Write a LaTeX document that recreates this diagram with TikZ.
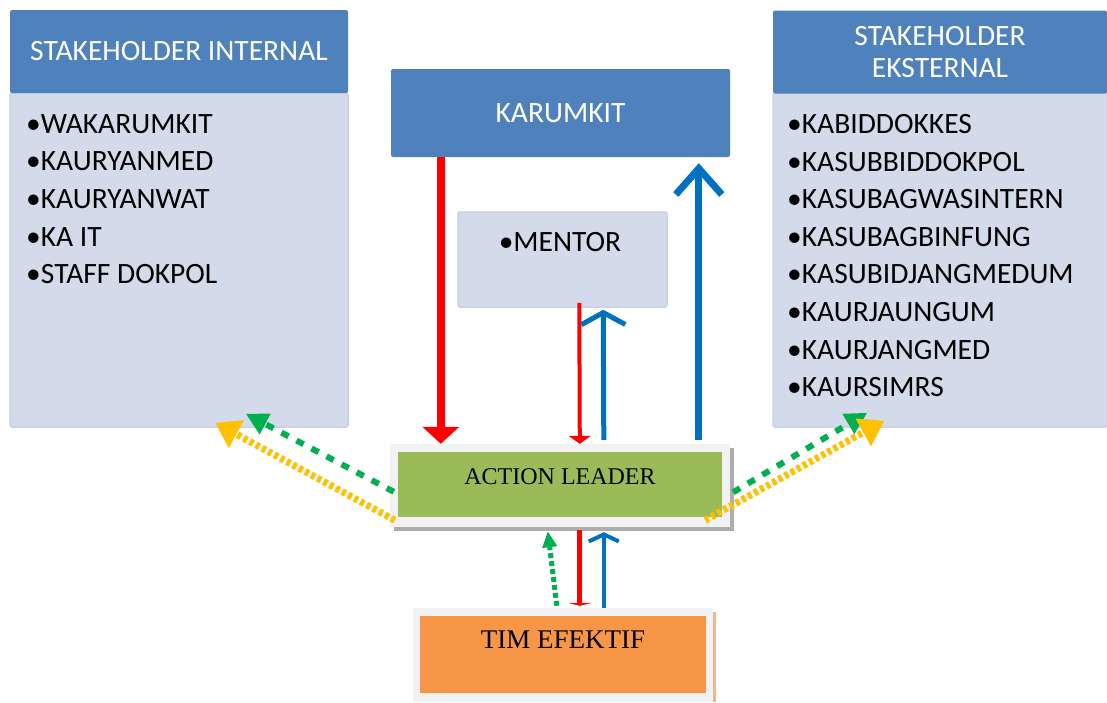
\documentclass[tikz,border=0pt]{standalone}
\usepackage{fontspec}
\setmainfont{Carlito}
\newfontfamily\timesfont{Liberation Serif}
\usetikzlibrary{positioning,arrows.meta}
\definecolor{hdblue}{HTML}{4F81BD}
\definecolor{lightbody}{HTML}{D3DBEA}
\definecolor{bodyedge}{HTML}{C9D2E3}
\definecolor{leadgreen}{HTML}{9BBB59}
\definecolor{timorange}{HTML}{F79646}
\definecolor{framegrey}{HTML}{F2F2F2}
\definecolor{arrred}{HTML}{FF0000}
\definecolor{arrblue}{HTML}{0070C0}
\definecolor{arrgreen}{HTML}{00B050}
\definecolor{arryellow}{HTML}{FFC000}

\begin{document}
\begin{tikzpicture}[x=1pt, y=-1pt, font=\fontsize{29.5}{32}\selectfont,
  header/.style={fill=hdblue, text=white, rounded corners=2pt, inner sep=0pt, align=center},
  listbox/.style={fill=lightbody, draw=bodyedge, line width=1.5pt, rounded corners=2pt, inner sep=0pt},
  item/.style={anchor=west, inner sep=0pt},
  frame/.style={fill=framegrey, inner sep=0pt},
  redline/.style={draw=arrred, line width=#1},
  blueline/.style={draw=arrblue, line width=#1},
  yellowdash/.style={draw=arryellow, line width=7pt, dash pattern=on 4pt off 3pt},
  greendash/.style={draw=arrgreen, line width=6pt, dash pattern=on 8pt off 9pt}]
  \useasboundingbox (0,0) rectangle (1107,702);

  % stakeholder boxes
  \node[listbox, minimum width=338pt, minimum height=334pt] (intbody) at (179,260) {};
  \node[header, minimum width=338pt, minimum height=83pt] (inthead) at (179,51.5) {STAKEHOLDER INTERNAL};
  \node[listbox, minimum width=334pt, minimum height=334pt] (extbody) at (940,260) {};
  \node[header, minimum width=334pt, minimum height=83pt] (exthead) at (940,52) {STAKEHOLDER\\EKSTERNAL};
  \foreach \t [count=\i] in {WAKARUMKIT,KAURYANMED,KAURYANWAT,KA IT,STAFF DOKPOL}
    \node[item] (int-\i) at (26,124+37.6*\i-37.6) {\textbullet\t};
  \foreach \t [count=\i] in {KABIDDOKKES,KASUBBIDDOKPOL,KASUBAGWASINTERN,KASUBAGBINFUNG,
      KASUBIDJANGMEDUM,KAURJAUNGUM,KAURJANGMED,KAURSIMRS}
    \node[item] (ext-\i) at (787,124+37.6*\i-37.6) {\textbullet\t};

  % middle column
  \node[header, minimum width=339pt, minimum height=88pt] (karumkit) at (560.5,113) {KARUMKIT};
  \node[listbox, minimum width=209pt, minimum height=95pt] (mentor) at (562.5,259.5) {};
  \node[inner sep=0pt] (mentortxt) at (560,242) {\textbullet MENTOR};

  \fill[black!32] (394,448) rectangle (734,531);
  \node[frame, minimum width=340pt, minimum height=83pt] (action) at (560,485.5) {};
  \node[fill=leadgreen, minimum width=324pt, minimum height=65pt] (lead) at (560,484.5) {};
  \node[inner sep=0pt, font=\timesfont\fontsize{24}{28}\selectfont] (leadtxt) at (560,477) {ACTION LEADER};

  \fill[timorange!50!brown!60] (417,612) rectangle (716,702);
  \node[frame, minimum width=300pt, minimum height=94pt] (tim) at (563,655) {};
  \node[fill=timorange, minimum width=286pt, minimum height=77pt] (timin) at (563,654.5) {};
  \node[inner sep=0pt, font=\timesfont\fontsize{27}{31}\selectfont] (timtxt) at (563,640) {TIM EFEKTIF};

  % vertical arrows
  \draw[redline=8pt, -{Triangle[width=36pt,length=17pt]}]
    ([xshift=50pt]karumkit.south west) -- ([xshift=51pt]action.north west);
  \draw[blueline=7pt, -{Straight Barb[width=46pt,length=26pt]}]
    ([xshift=309pt,yshift=4pt]action.north west) -- ([xshift=308pt,yshift=-6pt]karumkit.south west);
  \draw[redline=4pt, -{Triangle[width=22pt,length=8pt]}]
    ([xshift=122pt,yshift=5pt]mentor.south west) -- ([xshift=190pt]action.north west);
  \draw[blueline=5pt, -{Straight Barb[width=44pt,length=12pt]}]
    ([xshift=214pt,yshift=4pt]action.north west) -- ([xshift=146pt,yshift=-2pt]mentor.south west);

  % between action leader and team
  \draw[redline=5pt, -{Triangle[width=24pt,length=3pt]}]
    ([xshift=190pt,yshift=-3pt]action.south west) -- ([xshift=167pt,yshift=2pt]tim.north west);
  \draw[blueline=4pt, -{Straight Barb[width=30pt,length=7pt]}]
    ([xshift=191pt]tim.north west) -- ([xshift=214pt,yshift=-5pt]action.south west);
  \draw[draw=arrgreen, line width=5pt, dash pattern=on 5pt off 3pt, -{Triangle[width=14pt,length=16pt]}]
    ([xshift=144pt,yshift=2pt]tim.north west) -- ([xshift=158pt,yshift=-4pt]action.south west);

  % diagonal arrows
  \draw[greendash, -{Triangle[width=22pt,length=22pt]}]
    ([xshift=4pt,yshift=-48pt]action.north west) -- ([xshift=-103pt,yshift=14pt]intbody.south east);
  \draw[yellowdash, -{Triangle[width=30pt,length=24pt]}]
    ([xshift=5pt,yshift=7pt]action.south west) -- ([xshift=206pt,yshift=5pt]intbody.south west);
  \draw[greendash, -{Triangle[width=22pt,length=22pt]}]
    ([xshift=3pt,yshift=35pt]action.south east) -- ([xshift=95pt,yshift=15pt]extbody.south west);
  \draw[yellowdash, -{Triangle[width=30pt,length=24pt]}]
    ([xshift=-25pt,yshift=7pt]action.south east) -- ([xshift=112pt,yshift=7pt]extbody.south west);
\end{tikzpicture}
\end{document}
